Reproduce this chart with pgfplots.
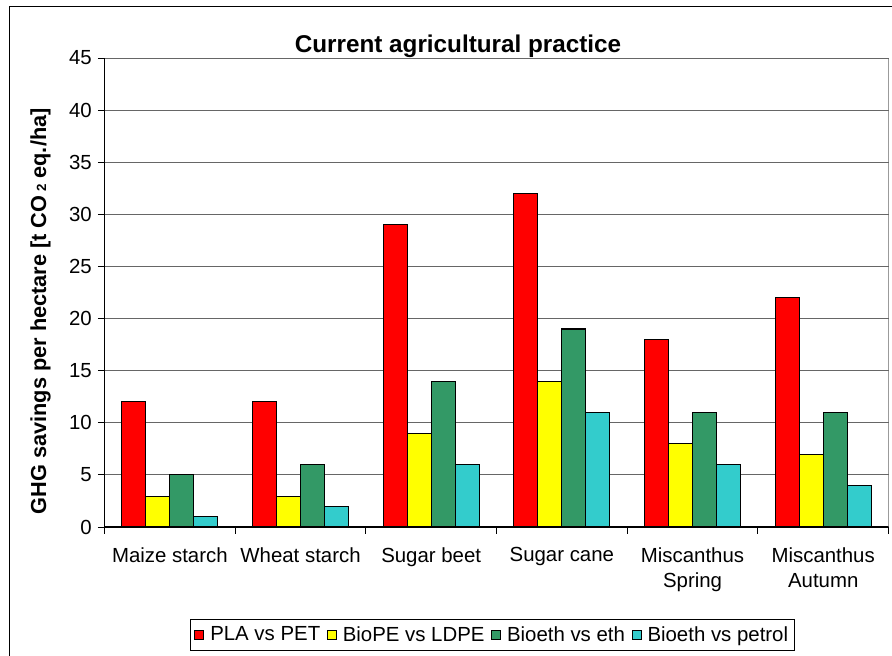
\documentclass[border=0pt]{standalone}
\usepackage{pgfplots}
\pgfplotsset{compat=1.18}
\usepackage{fontspec}
\setmainfont{Liberation Sans}
\definecolor{cRed}{HTML}{FF0000}
\definecolor{cYel}{HTML}{FFFF00}
\definecolor{cGrn}{HTML}{339966}
\definecolor{cCyn}{HTML}{33CCCC}
\begin{document}
\begin{tikzpicture}
\useasboundingbox (0,0) rectangle (669pt,-492pt);
\draw[black, line width=0.8pt] (7.1pt,-492pt) -- (7.1pt,-4.9pt) -- (669pt,-4.9pt);
\begin{axis}[
  at={(78.4pt,-395.25pt)}, anchor=south west,
  scale only axis, width=588pt, height=351.75pt,
  ymin=0, ymax=45, ytick={0,5,...,45},
  xmin=-0.5, xmax=5.5,
  xtick={0,...,5},
  xticklabels={Maize starch, Wheat starch, Sugar beet, Sugar cane, {Miscanthus\\Spring}, {Miscanthus\\Autumn}},
  xticklabel style={align=center, font=\fontsize{15.3pt}{18.75pt}\selectfont, yshift=-7pt},
  yticklabel style={font=\fontsize{15.3pt}{18pt}\selectfont, xshift=-1pt},
  /pgf/number format/assume math mode=true,
  major x tick style={draw=none},
  minor xtick={-0.5,0.5,...,5.5},
  tick align=outside,
  major tick length=5pt, minor tick length=5pt,
  tick style={black, line width=0.6pt},
  axis x line*=bottom, axis y line*=left,
  axis line style={black, line width=0.8pt, -},
  ymajorgrids, grid style={gray!80!black, line width=0.7pt},
  ybar=0pt, bar width=0.184,
  every axis plot/.append style={draw=black, line width=0.8pt},
  legend style={at={(0.495,-0.230)}, anchor=center, legend columns=4,
    draw=black, line width=0.6pt, font=\fontsize{15.3pt}{18pt}\selectfont,
    inner xsep=3pt, inner ysep=3pt,
    /tikz/every odd column/.append style={column sep=2.5pt},
    /tikz/every even column/.append style={column sep=3pt}},
  legend image code/.code={\draw[#1, line width=0.6pt] (0pt,-3.4pt) rectangle (6.8pt,3.4pt);},
]
\addplot[fill=cRed] coordinates {(0,12) (1,12) (2,29) (3,32) (4,18) (5,22)};
\addplot[fill=cYel] coordinates {(0,2.9) (1,2.9) (2,9) (3,14) (4,8) (5,7)};
\addplot[fill=cGrn] coordinates {(0,5) (1,6) (2,14) (3,19) (4,11) (5,11)};
\addplot[fill=cCyn] coordinates {(0,1) (1,2) (2,6) (3,11) (4,6) (5,4)};
\legend{PLA vs PET, BioPE vs LDPE, Bioeth vs eth, Bioeth vs petrol}
\draw[gray!80!black, line width=0.8pt] (rel axis cs:0,1) -- (rel axis cs:1,1) -- (rel axis cs:1,0);
\end{axis}
\node[font=\bfseries\fontsize{18.2pt}{21pt}\selectfont] at (343.5pt,-34.5pt) {Current agricultural practice};
\node[rotate=90, font=\bfseries\fontsize{16.3pt}{19pt}\selectfont] at (30.5pt,-233.5pt) {GHG savings per hectare [t CO\,{\fontsize{10pt}{11pt}\selectfont 2} eq./ha]};
\end{tikzpicture}
\end{document}
